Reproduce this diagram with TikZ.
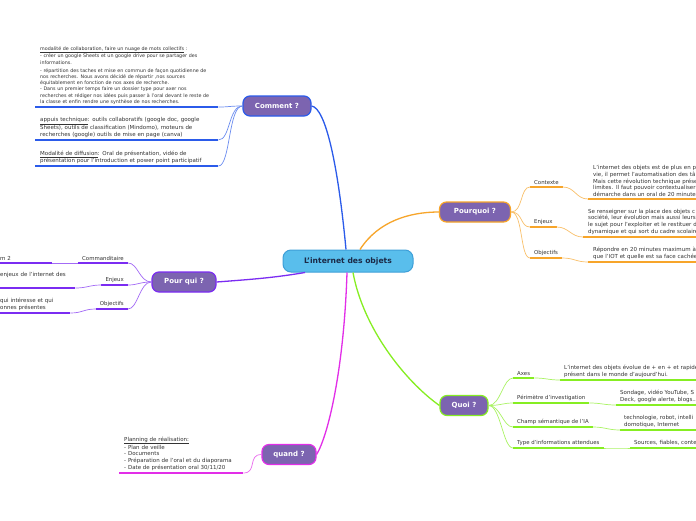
\documentclass[tikz,border=0pt]{standalone}
\usepackage{fontspec}
\setmainfont{DejaVu Sans}
\definecolor{cblue}{HTML}{2B5BEA}
\definecolor{corange}{HTML}{F7A52A}
\definecolor{cpurple}{HTML}{7B2CF2}
\definecolor{cgreen}{HTML}{86EE22}
\definecolor{cmagenta}{HTML}{E22EE8}
\definecolor{tfill}{HTML}{7C64B0}
\definecolor{hubfill}{HTML}{59BEEC}
\definecolor{hubline}{HTML}{3E9FD8}
\definecolor{hubink}{HTML}{1B2A47}
\definecolor{ink}{HTML}{333333}
\newcommand{\txtfont}{\fontsize{5.5}{6.6}\selectfont}
\newcommand{\tinyfont}{\fontsize{4.8}{6.2}\selectfont}
\newcommand{\lblfont}{\fontsize{5.4}{6.5}\selectfont}
\tikzset{
  hub/.style={draw=hubline, line width=1pt, fill=hubfill, rounded corners=8pt,
    minimum width=130pt, minimum height=22pt, text=hubink,
    font=\bfseries\fontsize{7.6}{9}\selectfont},
  topic/.style={draw=#1, line width=1.2pt, fill=tfill, rounded corners=7pt,
    minimum height=20pt, inner xsep=0pt, text=white,
    font=\bfseries\fontsize{7}{8}\selectfont},
  lbl/.style={inner xsep=4pt, inner ysep=2pt, text=ink, font=\lblfont},
  body/.style={inner xsep=5pt, inner ysep=2.5pt, align=left, text=ink, font=\txtfont},
  ul/.style={draw=#1, line width=1.8pt},
  trunk/.style={draw=#1, line width=1.3pt},
  twig/.style={draw=#1!70, line width=0.7pt},
}
\begin{document}
\begin{tikzpicture}[x=1pt,y=-1pt]
    \useasboundingbox (0,0) rectangle (696,520);
    \fill[white] (0,0) rectangle (696,520);
    \clip (0,0) rectangle (696,520);
    % centre and main branches
    \node[hub] (iot) at (348,261) {L'internet des objets};
    \node[topic=cblue, minimum width=68pt] (comment) at (277,106) {Comment ?};
    \node[topic=corange, minimum width=71pt] (pourquoi) at (475,212) {Pourquoi ?};
    \node[topic=cpurple, minimum width=64pt] (pourqui) at (184,282) {Pour qui ?};
    \node[topic=cgreen, minimum width=48pt] (quoi) at (464,405.5) {Quoi ?};
    \node[topic=cmagenta, minimum width=54pt] (quand) at (289,454.5) {quand ?};
    \draw[trunk=cblue] ([xshift=-2pt]iot.north) .. controls +(-8,-85) and +(14,2) .. (comment.east);
    \draw[trunk=corange] ([xshift=12pt]iot.north) .. controls +(18,-28) and +(-30,0) .. (pourquoi.west);
    \draw[trunk=cpurple] ([xshift=-43pt]iot.south) .. controls +(-30,5) and +(40,-3) .. (pourqui.east);
    \draw[trunk=cgreen] ([xshift=5pt]iot.south) .. controls +(10,55) and +(-35,-25) .. (quoi.west);
    \draw[trunk=cmagenta] ([xshift=-1pt]iot.south) .. controls +(-3,95) and +(12,-20) .. (quand.east);
    % Comment ?
    \node[body, font=\tinyfont, anchor=south west, text width=173pt] (collab) at (35,107) {\underline{modalité de collaboration, faire un nuage de mots collectifs} :\\
      - créer un google Sheets et un google drive pour se partager des\\
      informations.\\[2pt]
      - répartition des taches et mise en commun de façon quotidienne de\\
      nos recherches. Nous avons décidé de répartir ,nos sources\\
      équitablement en fonction de nos axes de recherche.\\
      - Dans un premier temps faire un dossier type pour axer nos\\
      recherches et rédiger nos idées puis passer à l'oral devant le reste de\\
      la classe et enfin rendre une synthèse de nos recherches.};
    \node[body, anchor=south west, text width=173pt] (appuis) at (35,140) {\underline{appuis technique}: outils collaboratifs (google doc, google\\
      Sheets), outils de classification (Mindomo), moteurs de\\
      recherches (google) outils de mise en page (canva)};
    \node[body, anchor=south west, text width=173pt] (diffusion) at (35,166) {\underline{Modalité de diffusion}: Oral de présentation, vidéo de\\
      présentation pour l'introduction et power point participatif};
    \draw[ul=cblue] (collab.south west) -- (collab.south east);
    \draw[ul=cblue] (appuis.south west) -- (appuis.south east);
    \draw[ul=cblue] (diffusion.south west) -- (diffusion.south east);
    \draw[twig=cblue] (comment.west) .. controls +(-14,0) and +(12,0) .. (collab.south east);
    \draw[twig=cblue] (comment.west) .. controls +(-14,0) and +(12,0) .. (appuis.south east);
    \draw[twig=cblue] (comment.west) .. controls +(-14,0) and +(12,0) .. (diffusion.south east);
    % Pourquoi ?
    \node[lbl, anchor=south west] (contexte) at (530,187) {Contexte};
    \node[lbl, anchor=south west] (enjeuxA) at (530,227) {Enjeux};
    \node[lbl, anchor=south west] (objA) at (530,258) {Objectifs};
    \node[body, anchor=south west, text width=130pt] (contexteT) at (588,199) {L'internet des objets est de plus en p\\
      vie, il permet l'automatisation des tâ\\
      Mais cette révolution technique prése\\
      limites. Il faut pouvoir contextualiser\\
      démarche dans un oral de 20 minute};
    \node[body, anchor=south west, text width=130pt] (enjeuxAT) at (583,237) {Se renseigner sur la place des objets c\\
      société, leur évolution mais aussi leurs\\
      le sujet pour l'exploiter et le restituer d\\
      dynamique et qui sort du cadre scolaire};
    \node[body, anchor=south west, text width=130pt] (objAT) at (588,262) {Répondre en 20 minutes maximum à\\
      que l'IOT et quelle est sa face cachée};
    \foreach \n in {contexte,enjeuxA,objA,contexteT,enjeuxAT,objAT}
      \draw[ul=corange] (\n.south west) -- (\n.south east);
    \foreach \n in {contexte,enjeuxA,objA}{
      \draw[twig=corange] (pourquoi.east) .. controls +(12,0) and +(-10,0) .. (\n.south west);
      \draw[twig=corange] (\n.south east) .. controls +(12,0) and +(-12,0) .. (\n T.south west);
    }
    % Quoi ?
    \node[lbl, anchor=south west] (axes) at (513,378) {Axes};
    \node[lbl, anchor=south west] (perim) at (513,403) {Périmètre d'investigation};
    \node[lbl, anchor=south west] (champ) at (513,427) {Champ sémantique de l'IA};
    \node[lbl, anchor=south west] (infos) at (513,448) {Type d'informations attendues};
    \node[body, inner xsep=4pt, anchor=south west, text width=150pt] (axesT) at (560,380) {L'internet des objets évolue de + en + et rapide\\
      présent dans le monde d'aujourd'hui.};
    \node[body, inner xsep=4pt, anchor=south west, text width=100pt] (perimT) at (616,405) {Sondage, vidéo YouTube, S\\
      Deck, google alerte, blogs...};
    \node[body, inner xsep=4pt, anchor=south west, text width=100pt] (champT) at (620,430) {technologie, robot, intelli\\
      domotique, Internet};
    \node[body, inner xsep=4pt, anchor=south west, text width=100pt] (infosT) at (630,448) {Sources, fiables, conte};
    \foreach \n in {axes,perim,champ,infos}{
      \draw[ul=cgreen] (\n.south west) -- (\n.south east);
      \draw[ul=cgreen] (\n T.south west) -- (\n T.south east);
      \draw[twig=cgreen] (quoi.east) .. controls +(12,0) and +(-10,0) .. (\n.south west);
      \draw[twig=cgreen] (\n.south east) .. controls +(12,0) and +(-12,0) .. (\n T.south west);
    }
    % Pour qui ?
    \node[lbl, anchor=south east] (comm) at (128,263) {Commanditaire};
    \node[lbl, anchor=south east] (enjeuxB) at (128,285) {Enjeux};
    \node[lbl, anchor=south east] (objB) at (128,309) {Objectifs};
    \node[body, anchor=south west, text width=47pt] (commT) at (-5,263) {m 2};
    \node[body, anchor=south west, text width=70pt] (enjeuxBT) at (-5,288) {enjeux de l'internet des\\ \strut};
    \node[body, anchor=south west, text width=65pt] (objBT) at (-5,313) {qui intéresse et qui\\
      onnes présentes};
    \foreach \n in {comm,enjeuxB,objB}{
      \draw[ul=cpurple] (\n.south west) -- (\n.south east);
      \draw[ul=cpurple] (\n T.south west) -- (\n T.south east);
      \draw[twig=cpurple] (pourqui.west) .. controls +(-12,0) and +(10,0) .. (\n.south east);
      \draw[twig=cpurple] (\n.south west) .. controls +(-12,0) and +(12,0) .. (\n T.south east);
    }
    % quand ?
    \node[body, anchor=south west, text width=114pt] (planning) at (119,473) {\underline{Planning de réalisation:}\\
      - Plan de veille\\
      - Documents\\
      - Préparation de l'oral et du diaporama\\
      - Date de présentation oral 30/11/20};
    \draw[ul=cmagenta] (planning.south west) -- (planning.south east);
    \draw[twig=cmagenta] (quand.west) .. controls +(-14,0) and +(14,0) .. (planning.south east);
\end{tikzpicture}
\end{document}
